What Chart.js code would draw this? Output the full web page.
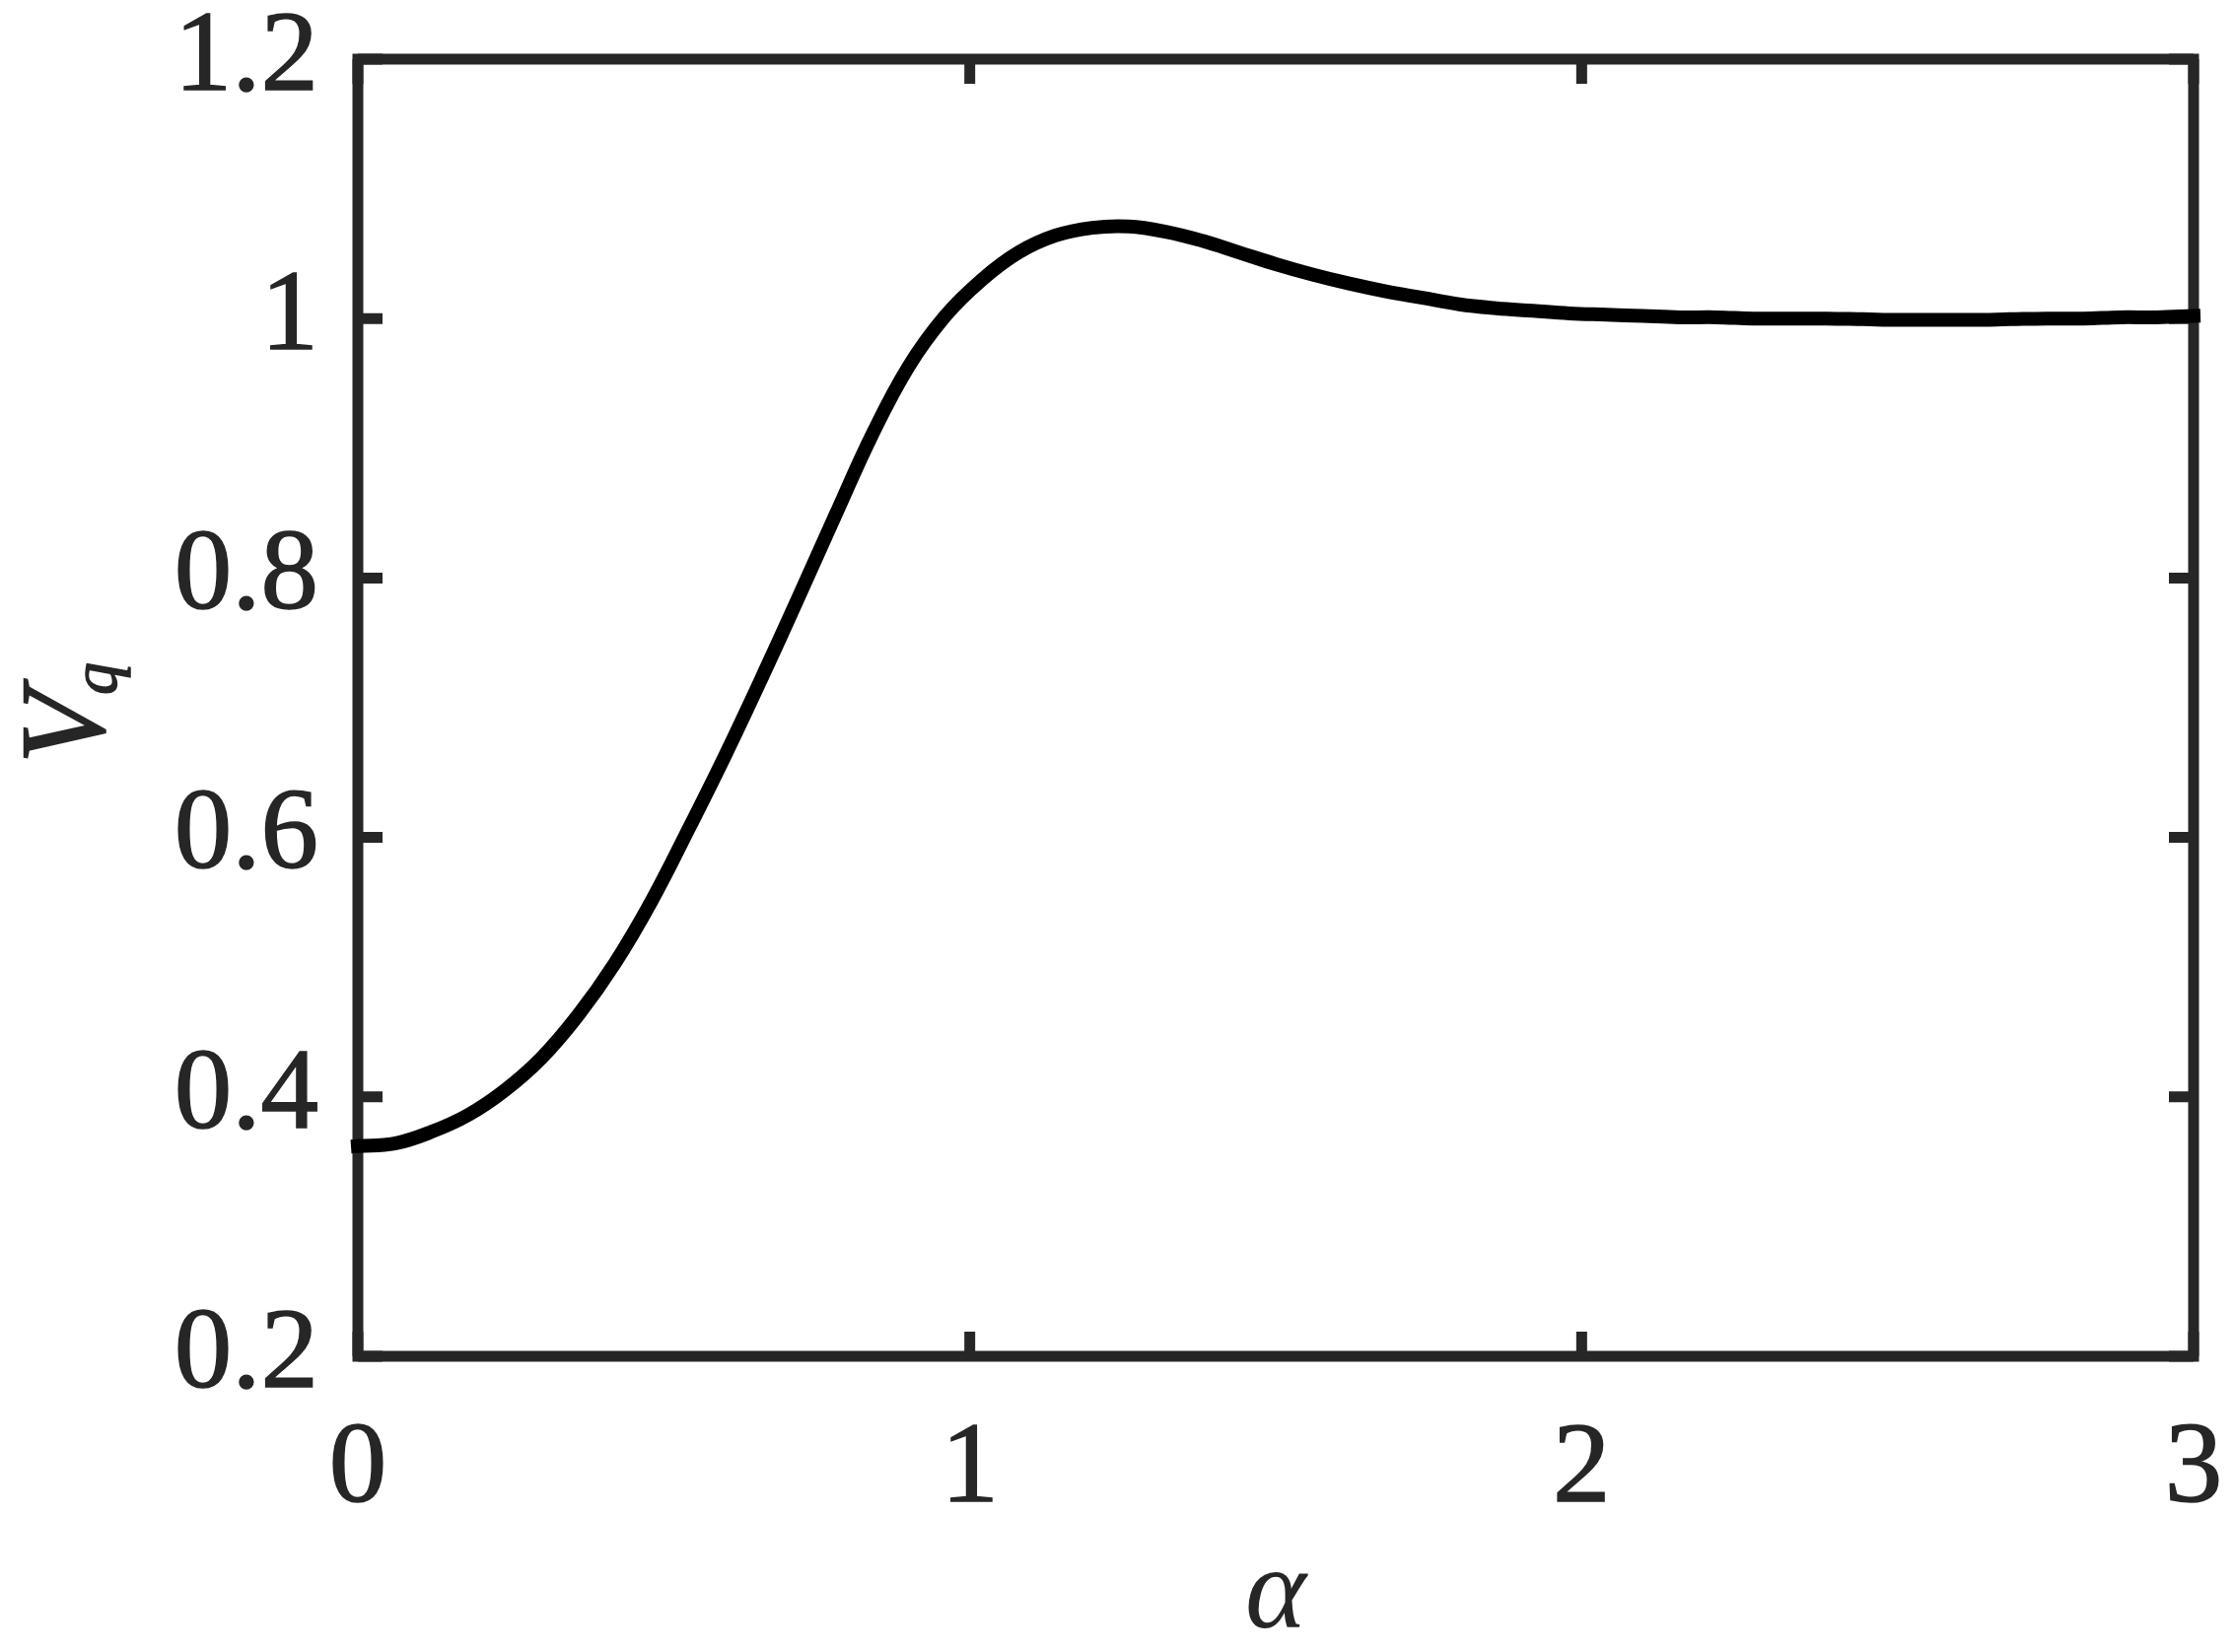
<!DOCTYPE html>
<html>
<head>
<meta charset="utf-8">
<script src="https://cdn.jsdelivr.net/npm/chart.js@4/dist/chart.umd.min.js"></script>
<style>
  html, body { margin: 0; padding: 0; background: #ffffff; }
  #wrap { width: 2266px; height: 1676px; position: relative; }
</style>
</head>
<body>
<div id="wrap"><canvas id="c" width="2266" height="1676"></canvas></div>
<script>
// ---- data ----
const alpha = [0, 0.06, 0.12, 0.18, 0.24, 0.30, 0.36, 0.42, 0.48, 0.54, 0.60, 0.66, 0.72, 0.78, 0.84, 0.90, 0.96,
  1.02, 1.08, 1.14, 1.20, 1.26, 1.32, 1.38, 1.44, 1.50, 1.56, 1.62, 1.68, 1.74, 1.80, 1.86, 1.92, 1.98,
  2.04, 2.10, 2.16, 2.22, 2.28, 2.34, 2.40, 2.46, 2.52, 2.58, 2.64, 2.70, 2.76, 2.82, 2.88, 2.94, 3.00];
const vq = [0.362, 0.364, 0.373, 0.386, 0.405, 0.430, 0.463, 0.503, 0.551, 0.606, 0.663, 0.723, 0.785, 0.848, 0.910, 0.963, 1.002,
  1.030, 1.051, 1.064, 1.070, 1.071, 1.067, 1.060, 1.051, 1.042, 1.034, 1.027, 1.021, 1.016, 1.011, 1.008, 1.006, 1.004,
  1.003, 1.002, 1.001, 1.001, 1.000, 1.000, 1.000, 0.9995, 0.999, 0.999, 0.999, 0.9995, 1.000, 1.000, 1.001, 1.001, 1.002];
const xTicks = [0, 1, 2, 3];
const xTickLabels = ['0', '1', '2', '3'];
const yTicks = [0.2, 0.4, 0.6, 0.8, 1.0, 1.2];
const yTickLabels = ['0.2', '0.4', '0.6', '0.8', '1', '1.2'];
const xTitle = 'α';
const yTitleMain = 'V';
const yTitleSub = 'q';

// ---- styling ----
const SERIF = "'Liberation Serif', 'Times New Roman', 'DejaVu Serif', serif";
const AXIS_COLOR = '#262626';
const FRAME_W = 11;
const TICK_LEN = 25;

function zeroPadding(s) {
  s.paddingLeft = 0; s.paddingRight = 0; s.paddingTop = 0; s.paddingBottom = 0;
}

const boxPlugin = {
  id: 'matlabBox',
  beforeDatasetsDraw(chart) {
    const { ctx, chartArea: a, scales } = chart;
    const xs = scales.x, ys = scales.y;
    ctx.save();
    ctx.strokeStyle = AXIS_COLOR;
    ctx.lineWidth = FRAME_W;
    ctx.lineCap = 'butt';
    ctx.beginPath();
    xTicks.forEach(v => {
      const px = xs.getPixelForValue(v);
      ctx.moveTo(px, a.bottom); ctx.lineTo(px, a.bottom - TICK_LEN);
      ctx.moveTo(px, a.top); ctx.lineTo(px, a.top + TICK_LEN);
    });
    yTicks.forEach(v => {
      const py = ys.getPixelForValue(v);
      ctx.moveTo(a.left, py); ctx.lineTo(a.left + TICK_LEN, py);
      ctx.moveTo(a.right, py); ctx.lineTo(a.right - TICK_LEN, py);
    });
    ctx.stroke();
    ctx.lineJoin = 'miter';
    ctx.strokeRect(a.left, a.top, a.right - a.left, a.bottom - a.top);
    ctx.restore();
  },
  afterDraw(chart) {
    // y-axis title V with subscript q, rotated like the reference
    const { ctx, chartArea: a } = chart;
    const cy = (a.top + a.bottom) / 2;
    ctx.save();
    ctx.fillStyle = AXIS_COLOR;
    ctx.strokeStyle = AXIS_COLOR;
    ctx.lineWidth = 1.5;
    ctx.textAlign = 'left';
    ctx.textBaseline = 'alphabetic';
    ctx.save();
    ctx.translate(105, cy + 57);
    ctx.rotate(-Math.PI / 2);
    ctx.font = 'italic 122px ' + SERIF;
    ctx.fillText(yTitleMain, 0, 0);
    ctx.strokeText(yTitleMain, 0, 0);
    ctx.restore();
    ctx.save();
    ctx.translate(118, cy - 13);
    ctx.rotate(-Math.PI / 2);
    ctx.font = 'italic 66px ' + SERIF;
    ctx.fillText(yTitleSub, 0, 0);
    ctx.strokeText(yTitleSub, 0, 0);
    ctx.restore();
    ctx.restore();
  }
};

const bgPlugin = {
  id: 'bg',
  beforeDraw(chart) {
    const { ctx } = chart;
    ctx.save();
    ctx.fillStyle = '#ffffff';
    ctx.fillRect(0, 0, chart.width, chart.height);
    ctx.restore();
  }
};

new Chart(document.getElementById('c'), {
  type: 'line',
  data: {
    datasets: [{
      label: 'Vq',
      data: alpha.map((a, i) => ({ x: a, y: vq[i] })),
      borderColor: '#000000',
      borderWidth: 14,
      pointRadius: 0,
      tension: 0.4,
      fill: false,
      borderCapStyle: 'square',
      borderJoinStyle: 'round',
      clip: false
    }]
  },
  options: {
    responsive: false,
    animation: false,
    devicePixelRatio: 1,
    layout: { padding: { top: 60, right: 41, left: 0, bottom: 0 } },
    plugins: {
      legend: { display: false },
      tooltip: { enabled: false },
      title: { display: false }
    },
    scales: {
      x: {
        type: 'linear',
        min: 0, max: 3,
        afterBuildTicks: s => { s.ticks = xTicks.map(v => ({ value: v })); },
        afterFit: s => { s.height = 300; zeroPadding(s); },
        grid: { display: false, drawTicks: false },
        border: { display: false },
        ticks: {
          padding: 58,
          color: AXIS_COLOR,
          textStrokeColor: AXIS_COLOR,
          textStrokeWidth: 1.5,
          font: { family: SERIF, size: 117, lineHeight: 1 },
          maxRotation: 0,
          callback: (v) => { const i = xTicks.indexOf(v); return i >= 0 ? xTickLabels[i] : ''; }
        },
        title: {
          display: true,
          text: xTitle,
          color: AXIS_COLOR,
          font: { family: SERIF, size: 118, style: 'italic', lineHeight: 1 },
          padding: { top: 0, bottom: -3 }
        }
      },
      y: {
        type: 'linear',
        min: 0.2, max: 1.2,
        afterBuildTicks: s => { s.ticks = yTicks.map(v => ({ value: v })); },
        afterFit: s => { s.width = 363; zeroPadding(s); },
        grid: { display: false, drawTicks: false },
        border: { display: false },
        ticks: {
          padding: 40,
          color: AXIS_COLOR,
          textStrokeColor: AXIS_COLOR,
          textStrokeWidth: 1.5,
          font: { family: SERIF, size: 117, lineHeight: 1 },
          callback: (v) => { const i = yTicks.findIndex(t => Math.abs(t - v) < 1e-9); return i >= 0 ? yTickLabels[i] : ''; }
        },
        title: { display: false, text: yTitleMain + yTitleSub }
      }
    }
  },
  plugins: [bgPlugin, boxPlugin]
});
</script>
</body>
</html>
